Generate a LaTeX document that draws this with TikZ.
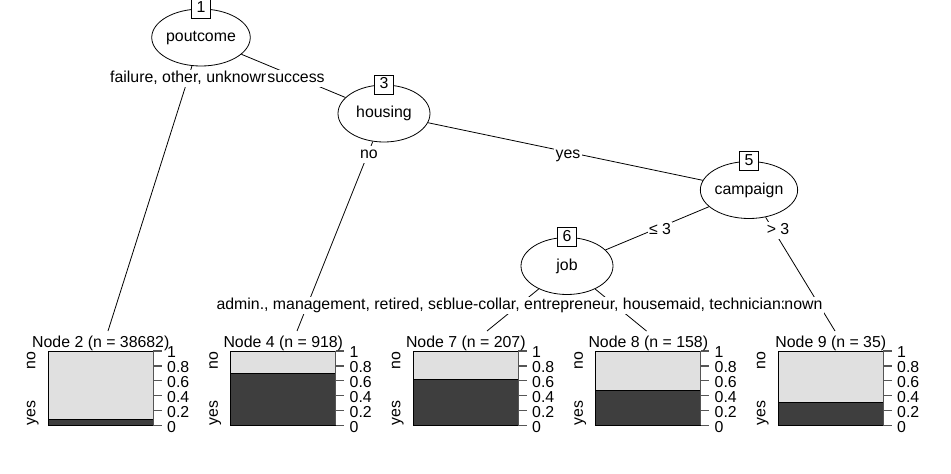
\documentclass[tikz,border=0pt]{standalone}
\usepackage{fontspec}
\setmainfont{Liberation Sans}
\usetikzlibrary{shapes.geometric}
\definecolor{lightbar}{HTML}{E0E0E0}
\definecolor{darkbar}{HTML}{3E3E3E}
\definecolor{axisgray}{HTML}{555555}
\newcommand\myleaf[5]{% #1 name, #2 left x, #3 yes fraction, #4 node number, #5 n
  \pgfmathsetmacro\myxl{#2}%
  \pgfmathsetmacro\myxr{#2+105}%
  \pgfmathsetmacro\myxc{#2+52.5}%
  \pgfmathsetmacro\myyd{425.5-74.5*#3}%
  \node[leafbox] (#1) at (\myxl,351) {};
  \fill[darkbar] (\myxl,\myyd) rectangle (\myxr,425.5);
  \draw (\myxl,\myyd) -- (\myxr,\myyd);
  \draw (#1.north west) rectangle (#1.south east);
  \draw[axisline] (\myxr,351) -- (\myxr,425.5);
  \foreach \v/\t in {0/0,0.2/0.2,0.4/0.4,0.6/0.6,0.8/0.8,1/1}{%
    \draw[axisline] (\myxr,{425.5-74.5*\v}) -- ++(8.5,0);
    \node[ticklab] at ({\myxr+13.5},{428-74.5*\v}) {\t};
  }
  \node[leaftitle] (#1t) at (\myxc,348) {Node #4 (n = #5)};
  \node[rotate=90, anchor=base east, inner sep=0pt] (#1no) at ({\myxl-13},351) {no};
  \node[rotate=90, anchor=base west, inner sep=0pt] (#1yes) at ({\myxl-13},425.5) {yes};
}
\begin{document}
\begin{tikzpicture}[x=0.75pt,y=-0.75pt,
  font=\fontsize{11.9}{14}\selectfont,
  line width=0.6pt,
  inner/.style={ellipse, draw, fill=white, minimum width=69pt, minimum height=42.75pt, inner sep=0pt, text height=8.6pt, text depth=2.5pt},
  idbox/.style={draw, fill=white, minimum size=14.25pt, inner sep=0pt, text height=8.6pt, text depth=2.5pt},
  elab/.style={fill=white, inner xsep=1pt, inner ysep=0.6pt, text height=8.6pt, text depth=2.5pt},
  leafbox/.style={fill=lightbar, draw, anchor=north west, minimum width=78.75pt, minimum height=55.875pt, inner sep=0pt, outer sep=0pt},
  axisline/.style={draw=axisgray, line width=1pt},
  ticklab/.style={anchor=west, inner sep=0pt, text height=8.6pt, text depth=2.5pt},
  leaftitle/.style={anchor=base, inner sep=0pt}]
\useasboundingbox (0,0) rectangle (951,474);
\fill[white] (0,0) rectangle (951,474);
% inner nodes
\node[inner] (n1) at (201,37.5) {poutcome};
\node[inner] (n3) at (384,113.5) {housing};
\node[inner] (n5) at (749,190) {campaign};
\node[inner] (n6) at (567,266) {job};
% leaf end points of edges
\coordinate (e2) at (108,331);
\coordinate (e4) at (297,331);
\coordinate (e7) at (487,331);
\coordinate (e8) at (646.5,331);
\coordinate (e9) at (835,331);
% edges
\draw (n1) -- (e2);
\draw (n1) -- (n3);
\draw (n3) -- (e4);
\draw (n3) -- (n5);
\draw (n5) -- (n6);
\draw (n5) -- (e9);
\draw (n6) -- (e7);
\draw (n6) -- (e8);
% id boxes
\node[idbox] (b1) at (n1.north) {1};
\node[idbox] (b3) at (n3.north) {3};
\node[idbox] (b5) at (n5.north) {5};
\node[idbox] (b6) at (n6.north) {6};
% edge labels
\node[elab] (l12) at (190,78.5) {failure, other, unknown};
\node[elab] (l13) at (296,78.5) {success};
\node[elab] (l34) at (369,154.5) {no};
\node[elab] (l35) at (568,154.5) {yes};
\node[elab] (l56) at (660,230.5) {≤ 3};
\node[elab] (l59) at (778,230.5) {> 3};
\node[elab] (l67) at (519.5,305.5) {admin., management, retired, self-employed, services, student, unemployed, unknown};
\node[elab] (l68) at (612,305.5) {blue-collar, entrepreneur, housemaid, technician};
% leaves
\myleaf{t2}{48.3}{0.083}{2}{38682}
\myleaf{t4}{230.8}{0.70}{4}{918}
\myleaf{t7}{413.3}{0.62}{7}{207}
\myleaf{t8}{595.8}{0.47}{8}{158}
\myleaf{t9}{778.3}{0.315}{9}{35}
\end{tikzpicture}
\end{document}
